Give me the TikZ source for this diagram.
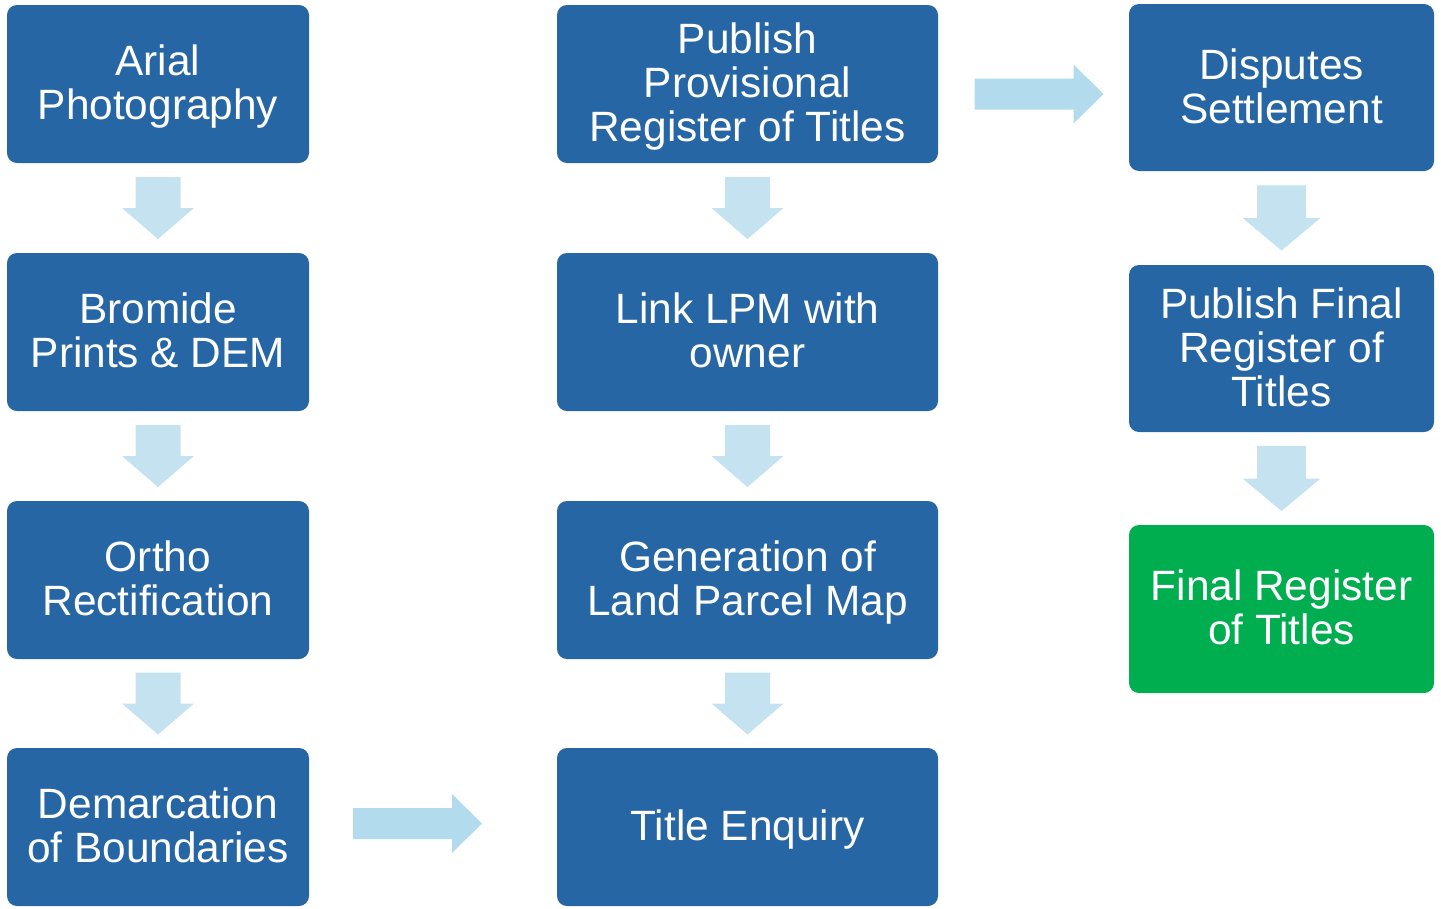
\documentclass[tikz,border=0pt]{standalone}
\usepackage{fontspec}
\setmainfont{Liberation Sans}
\definecolor{boxblue}{RGB}{39,102,165}
\definecolor{boxgreen}{RGB}{0,173,79}
\definecolor{downfill}{RGB}{197,226,240}
\definecolor{rightfill}{RGB}{178,220,238}
\begin{document}
\begin{tikzpicture}[x=1pt,y=-1pt,
  box/.style={rectangle, rounded corners=10pt, fill=boxblue, text=white,
    font=\fontsize{42.4}{44}\selectfont, align=center, inner sep=0pt, text depth=3pt},
  colone/.style={box, minimum width=302pt, minimum height=158pt},
  coltwo/.style={box, minimum width=381pt, minimum height=158pt},
  colthree/.style={box, minimum width=305pt, minimum height=167pt},
  pics/darrow/.style={code={\fill[downfill] (-22.5,-31) -- (22.5,-31) -- (22.5,0) -- (36,0) -- (0,31) -- (-36,0) -- (-22.5,0) -- cycle;}},
  pics/rarrow/.style={code={\fill[rightfill] (-64.5,-15.5) -- (34.5,-15.5) -- (34.5,-29.5) -- (64.5,0) -- (34.5,29.5) -- (34.5,15.5) -- (-64.5,15.5) -- cycle;}}]
\useasboundingbox (0,0) rectangle (1441,908);
% column 1
\node[colone] (arial) at (158,84) {Arial\\Photography};
\node[colone] (bromide) at (158,332) {Bromide\\Prints \& DEM};
\node[colone] (ortho) at (158,580) {Ortho\\Rectification};
\node[colone] (demarc) at (158,827) {Demarcation\\of Boundaries};
% column 2
\node[coltwo] (publish) at (747.5,84) {Publish\\Provisional\\Register of Titles};
\node[coltwo] (link) at (747.5,332) {Link LPM with\\owner};
\node[coltwo] (gen) at (747.5,580) {Generation of\\Land Parcel Map};
\node[coltwo] (enquiry) at (747.5,827) {Title Enquiry};
% column 3
\node[colthree] (disputes) at (1281.5,87.5) {Disputes\\Settlement};
\node[colthree] (pubfinal) at (1281.5,348.5) {Publish Final\\Register of\\Titles};
\node[colthree, fill=boxgreen, minimum height=168pt] (final) at (1281.5,609) {Final Register\\of Titles};
% down arrows
\path (arial.south) -- coordinate[midway] (a1) (bromide.north);
\path (bromide.south) -- coordinate[midway] (a2) (ortho.north);
\path (ortho.south) -- coordinate[midway] (a3) (demarc.north);
\path (publish.south) -- coordinate[midway] (b1) (link.north);
\path (link.south) -- coordinate[midway] (b2) (gen.north);
\path (gen.south) -- coordinate[midway] (b3) (enquiry.north);
\path (disputes.south) -- coordinate[midway] (c1) (pubfinal.north);
\path (pubfinal.south) -- coordinate[midway] (c2) (final.north);
\foreach \p in {a1,a2,a3,b1,b2,b3} { \pic at (\p) {darrow}; }
\foreach \p in {c1,c2} { \pic[xscale=1.08,yscale=1.05] at (\p) {darrow}; }
% right arrows
\coordinate (r1) at (417.5,823.5);
\coordinate (r2) at (1039,94);
\pic at (r1) {rarrow};
\pic at (r2) {rarrow};
\end{tikzpicture}
\end{document}
